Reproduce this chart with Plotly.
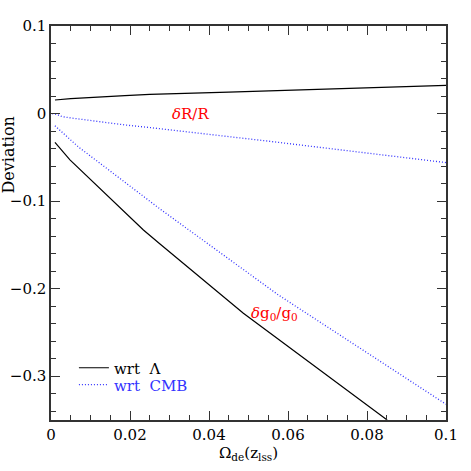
import plotly.graph_objects as go

# delta R / R
x_lam_R = [0.001, 0.005, 0.0187, 0.025, 0.045, 0.055, 0.07, 0.085, 0.1]
y_lam_R = [0.0155, 0.017, 0.0205, 0.022, 0.0245, 0.026, 0.0285, 0.0305, 0.0323]
x_cmb_R = [0.0003, 0.0015, 0.0028, 0.005, 0.0187, 0.025, 0.0453, 0.055, 0.1]
y_cmb_R = [0.0, -0.001, -0.0035, -0.005, -0.013, -0.016, -0.0265, -0.0315, -0.056]

# delta g0 / g0
x_lam_g = [0.001, 0.0048, 0.0234, 0.0276, 0.0487, 0.058, 0.0851]
y_lam_g = [-0.033, -0.053, -0.133, -0.149, -0.228, -0.259, -0.35]
x_cmb_g = [0.001, 0.0069, 0.0145, 0.0276, 0.0453, 0.0575, 0.1]
y_cmb_g = [-0.014, -0.038, -0.064, -0.109, -0.167, -0.207, -0.332]

FONT = "DejaVu Serif"
BLUE = "#3333ff"
DOTS = "1px,2px"

fig = go.Figure()
fig.add_trace(go.Scatter(x=x_lam_R, y=y_lam_R, mode="lines",
                         line=dict(color="black", width=1.2),
                         name="wrt  Λ", legend="legend"))
fig.add_trace(go.Scatter(x=x_cmb_R, y=y_cmb_R, mode="lines",
                         line=dict(color=BLUE, width=1.3, dash=DOTS),
                         name=f"<span style='color:{BLUE}'>wrt  CMB</span>", legend="legend2"))
fig.add_trace(go.Scatter(x=x_lam_g, y=y_lam_g, mode="lines",
                         line=dict(color="black", width=1.2),
                         showlegend=False))
fig.add_trace(go.Scatter(x=x_cmb_g, y=y_cmb_g, mode="lines",
                         line=dict(color=BLUE, width=1.3, dash=DOTS),
                         showlegend=False))

axis_common = dict(
    ticks="inside", mirror="allticks", showline=True, linecolor="#333",
    linewidth=1.5, tickcolor="#333", ticklen=9, tickwidth=1.2,
    showgrid=False, zeroline=False,
    tickfont=dict(family=FONT, size=15, color="black"),
)

legend_common = dict(xanchor="left", yanchor="middle", bgcolor="rgba(0,0,0,0)",
                     font=dict(family=FONT, size=15))

fig.update_layout(
    width=471, height=471,
    margin=dict(l=51, r=25, t=26, b=51, autoexpand=False),
    plot_bgcolor="white", paper_bgcolor="white",
    font=dict(family=FONT, size=15, color="black"),
    xaxis=dict(range=[0, 0.1], dtick=0.02, tick0=0,
               minor=dict(dtick=0.005, ticks="inside", ticklen=5, tickcolor="#333", tickwidth=1.2),
               title=dict(text="Ω<sub>de</sub>(z<sub>lss</sub>)", standoff=4,
                          font=dict(family=FONT, size=15)),
               **axis_common),
    yaxis=dict(range=[-0.35, 0.1], dtick=0.1, tick0=0,
               minor=dict(dtick=0.02, ticks="inside", ticklen=5, tickcolor="#333", tickwidth=1.2),
               **axis_common),
    showlegend=True,
    legend=dict(x=0.058, y=0.132, **legend_common),
    legend2=dict(x=0.058, y=0.089, **legend_common),
    annotations=[
        dict(text="Deviation", xref="paper", yref="paper", x=-0.107, y=0.673,
             xanchor="center", yanchor="middle",
             textangle=-90, showarrow=False, font=dict(family=FONT, size=16)),
        dict(text="<i>δ</i>R/R", x=0.0352, y=0.0, showarrow=False,
             font=dict(family=FONT, size=15, color="red")),
        dict(text="<i>δ</i>g<sub>0</sub>/g<sub>0</sub>", x=0.0567, y=-0.228, showarrow=False,
             font=dict(family=FONT, size=15, color="red")),
    ],
)

fig.write_html("out.html", config={"displayModeBar": False},
               post_script="document.body.style.margin='0px';")
